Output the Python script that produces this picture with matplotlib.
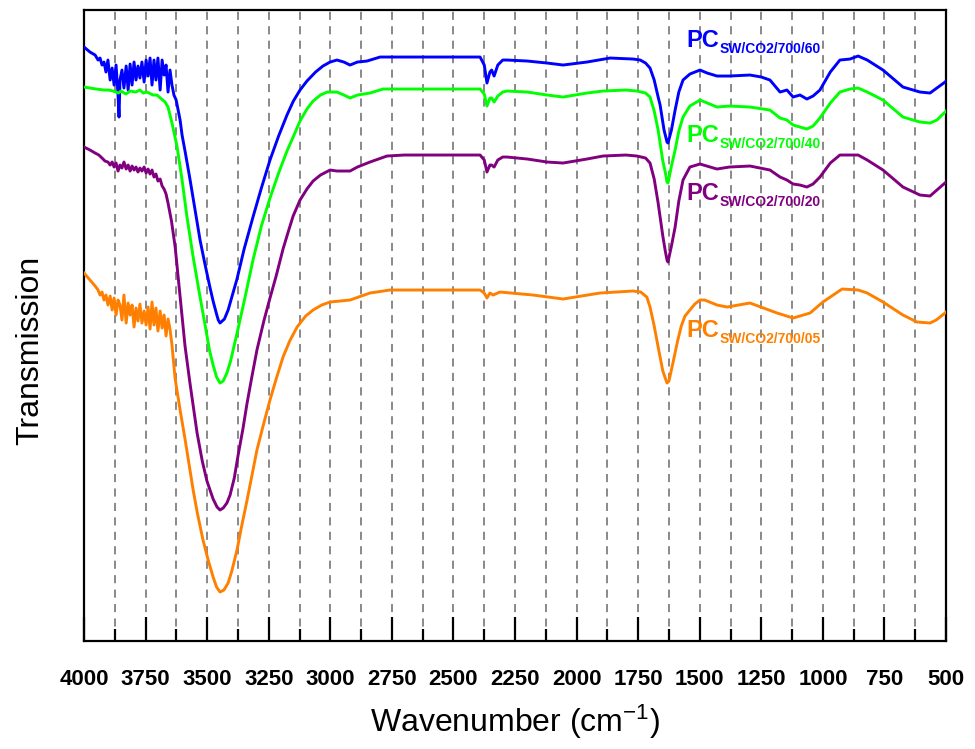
import matplotlib
matplotlib.use("Agg")
import matplotlib.pyplot as plt
from matplotlib.ticker import MultipleLocator

plt.rcParams['font.family'] = ['Liberation Sans', 'DejaVu Sans']
plt.rcParams['mathtext.fontset'] = 'custom'
plt.rcParams['mathtext.rm'] = 'Liberation Sans'
plt.rcParams['mathtext.bf'] = 'Liberation Sans:bold'
plt.rcParams['mathtext.it'] = 'Liberation Sans:italic'

# ---- data (wavenumber cm-1, transmission a.u.) ----
wn_60 = [4000, 3976, 3955, 3943, 3935, 3927, 3919, 3911, 3903, 3894, 3886, 3878, 3870, 3862, 3858, 3854,
         3846, 3838, 3829, 3821, 3813, 3805, 3797, 3789, 3781, 3773, 3765, 3756, 3748, 3740, 3732, 3724,
         3716, 3708, 3700, 3691, 3683, 3675, 3667, 3659, 3651, 3643, 3635, 3626, 3618, 3610, 3602,
         3590, 3570, 3550, 3529, 3510, 3490, 3476, 3462, 3455, 3448, 3430, 3415, 3400, 3379, 3350, 3314,
         3280, 3245, 3210, 3176, 3150, 3123, 3095, 3060, 3030, 3001, 2973, 2945, 2920, 2890, 2851, 2798,
         2700, 2500, 2392, 2375, 2364, 2352, 2345, 2335, 2320, 2300, 2283, 2200, 2120, 2055, 1958, 1864,
         1770, 1742, 1720, 1702, 1685, 1669, 1661, 1645, 1633, 1629, 1615, 1600, 1585, 1568, 1540, 1499,
         1470, 1430, 1380, 1296, 1250, 1215, 1174, 1146, 1121, 1093, 1065, 1040, 1012, 970, 931, 890, 857,
         820, 756, 675, 606, 565, 537, 504, 500]
t_60 = [594, 589, 586, 581, 583, 576, 579, 569, 581, 561, 573, 556, 576, 546, 524, 561,
        571, 553, 575, 551, 577, 556, 579, 561, 575, 563, 579, 559, 581, 565, 583, 556,
        581, 561, 583, 551, 581, 566, 576, 549, 571, 556, 546, 541, 531, 521, 506,
        490, 462, 432, 401, 378, 355, 340, 327, 321, 318, 322, 331, 344, 362, 392, 424,
        453, 481, 505, 526, 540, 551, 560, 569, 575, 579, 581, 579, 576, 579, 580, 584,
        584, 584, 584, 576, 558, 569, 571, 565, 576, 581, 581, 580, 578, 576, 579, 583,
        582, 581, 578, 573, 561, 544, 536, 511, 499, 498, 511, 531, 549, 561, 567, 571,
        568, 565, 565, 566, 564, 561, 549, 551, 544, 546, 542, 545, 551, 569, 581, 582, 585,
        581, 571, 554, 549, 548, 553, 559, 560]

wn_40 = [4000, 3976, 3950, 3920, 3900, 3882, 3860, 3850, 3830, 3813, 3790, 3773, 3760, 3744, 3720, 3704,
         3690, 3671, 3659, 3643, 3622, 3602, 3582, 3557, 3529, 3510, 3490, 3476, 3462, 3448, 3435, 3420,
         3405, 3390, 3375, 3346, 3314, 3280, 3245, 3210, 3176, 3151, 3123, 3095, 3070, 3040, 3013, 2973,
         2945, 2920, 2890, 2839, 2786, 2700, 2500, 2392, 2375, 2364, 2352, 2345, 2335, 2320, 2300, 2283,
         2200, 2120, 2055, 1958, 1893, 1800, 1755, 1720, 1702, 1685, 1669, 1650, 1640, 1633, 1629, 1615,
         1600, 1585, 1568, 1540, 1499, 1430, 1380, 1296, 1215, 1174, 1146, 1121, 1093, 1065, 1040, 1012,
         970, 931, 890, 857, 820, 756, 675, 606, 565, 537, 504, 500]
t_40 = [554, 553, 552, 551, 551, 550, 548, 550, 547, 550, 549, 551, 548, 549, 546, 546,
        543, 539, 534, 518, 494, 461, 424, 384, 344, 318, 290, 276, 264, 258, 260, 268,
        280, 296, 312, 344, 381, 415, 443, 468, 490, 504, 520, 532, 540, 546, 549, 549,
        546, 543, 546, 548, 552, 552, 552, 552, 547, 535, 543, 543, 539, 545, 549, 550,
        549, 546, 544, 548, 550, 551, 550, 548, 544, 530, 511, 480, 469, 459, 458, 475,
        491, 510, 524, 535, 541, 534, 535, 534, 531, 523, 521, 516, 514, 512, 515, 523,
        538, 549, 552, 553, 549, 541, 524, 519, 518, 521, 529, 530]

wn_20 = [4000, 3976, 3955, 3940, 3927, 3915, 3903, 3894, 3886, 3878, 3870, 3862, 3854, 3846, 3838, 3829,
         3821, 3813, 3805, 3797, 3789, 3781, 3773, 3765, 3756, 3748, 3740, 3732, 3724, 3716, 3708, 3700,
         3691, 3683, 3675, 3667, 3659, 3645, 3630, 3610, 3590, 3570, 3541, 3520, 3501, 3476, 3460, 3448,
         3435, 3420, 3407, 3390, 3375, 3355, 3338, 3318, 3298, 3270, 3245, 3220, 3192, 3170, 3151, 3123,
         3095, 3070, 3040, 3001, 2973, 2945, 2920, 2890, 2839, 2770, 2700, 2500, 2392, 2375, 2364, 2352,
         2345, 2335, 2320, 2300, 2283, 2200, 2120, 2055, 1958, 1893, 1800, 1755, 1720, 1702, 1685, 1669,
         1650, 1640, 1633, 1629, 1615, 1600, 1585, 1568, 1540, 1499, 1430, 1380, 1296, 1215, 1174, 1146,
         1121, 1093, 1065, 1040, 1012, 970, 931, 890, 857, 820, 756, 675, 606, 565, 537, 504, 500]
t_20 = [494, 491, 488, 486, 483, 480, 479, 476, 479, 474, 478, 470, 476, 473, 479, 472,
        476, 470, 475, 471, 474, 469, 473, 470, 474, 468, 472, 467, 471, 464, 467, 460,
        462, 455, 452, 447, 438, 420, 394, 344, 295, 258, 208, 180, 160, 142, 134, 131,
        133, 138, 146, 163, 185, 212, 238, 265, 291, 320, 343, 365, 392, 410, 425, 441,
        452, 460, 466, 471, 470, 470, 470, 474, 479, 485, 486, 486, 486, 481, 469, 476,
        476, 474, 481, 484, 484, 482, 479, 478, 482, 485, 486, 485, 483, 478, 462, 438,
        405, 390, 381, 379, 395, 414, 440, 461, 474, 477, 472, 474, 475, 471, 464, 461,
        457, 456, 454, 457, 464, 478, 486, 486, 486, 481, 471, 454, 446, 445, 451, 458, 459]

wn_05 = [4000, 3976, 3955, 3943, 3935, 3927, 3919, 3911, 3903, 3894, 3886, 3878, 3870, 3862, 3854, 3846,
         3838, 3829, 3821, 3813, 3805, 3797, 3789, 3781, 3773, 3765, 3756, 3748, 3740, 3732, 3724, 3716,
         3708, 3700, 3691, 3683, 3675, 3667, 3659, 3651, 3643, 3630, 3610, 3590, 3557, 3540, 3517, 3495,
         3476, 3462, 3448, 3432, 3415, 3400, 3379, 3360, 3338, 3318, 3298, 3270, 3245, 3220, 3192, 3165,
         3135, 3100, 3070, 3035, 3001, 2920, 2839, 2758, 2600, 2392, 2375, 2364, 2352, 2339, 2311, 2177,
         2055, 1905, 1771, 1740, 1715, 1702, 1685, 1669, 1650, 1633, 1625, 1609, 1590, 1575, 1560, 1540,
         1520, 1499, 1480, 1460, 1430, 1389, 1296, 1186, 1121, 1052, 1000, 922, 857, 820, 756, 675, 618,
         565, 540, 504, 500]
t_05 = [368, 361, 355, 351, 346, 349, 341, 346, 336, 345, 331, 343, 326, 341, 336, 321,
        346, 318, 338, 326, 336, 314, 333, 320, 337, 318, 330, 316, 334, 312, 339, 316,
        333, 310, 330, 313, 326, 305, 322, 312, 296, 262, 231, 202, 151, 128, 101, 80,
        64, 54, 49, 51, 58, 70, 91, 115, 141, 166, 191, 218, 241, 262, 284, 300,
        314, 325, 331, 336, 339, 341, 348, 351, 351, 351, 348, 343, 348, 346, 349, 346,
        342, 348, 350, 349, 344, 334, 315, 294, 270, 258, 260, 278, 300, 315, 325, 331,
        337, 341, 341, 339, 336, 334, 338, 328, 323, 328, 339, 352, 351, 348, 339, 326, 319,
        318, 321, 328, 329]

series = [
    (wn_60, t_60, '#0000FF', 'SW/CO2/700/60', 594),
    (wn_40, t_40, '#00FF00', 'SW/CO2/700/40', 499),
    (wn_20, t_20, '#800080', 'SW/CO2/700/20', 441),
    (wn_05, t_05, '#FF8000', 'SW/CO2/700/05', 304),
]
label_x = 1556

fig = plt.figure(figsize=(9.75, 7.49), dpi=100)
ax = fig.add_axes([0.0862, 0.1442, 0.8841, 0.8424])

for wn, t, c, name, ly in series:
    ax.plot(wn, t, color=c, lw=2.1, zorder=3)
    pc = ax.text(label_x, ly, 'PC', color=c, fontsize=17, fontweight='bold',
                 ha='left', va='baseline', zorder=4)
    ax.annotate(name, xy=(1, 0), xycoords=pc, xytext=(0.5, -0.9), textcoords='offset points',
                color=c, fontsize=10, fontweight='bold', ha='left', va='baseline', zorder=4)

ax.set_xlim(4000, 500)
ax.set_ylim(0, 631)
ax.xaxis.set_major_locator(MultipleLocator(250))
ax.xaxis.set_minor_locator(MultipleLocator(125))
ax.set_yticks([])
ax.tick_params(axis='x', which='major', direction='in', length=17, width=1.6, pad=20,
               labelsize=16, color='black')
ax.tick_params(axis='x', which='minor', direction='in', length=8.5, width=1.6, color='black')
for lab in ax.get_xticklabels():
    lab.set_fontweight('bold')
ax.grid(True, axis='x', which='both', color='#808080', linestyle=(0, (4.5, 3.5)), lw=1.3)
for s in ax.spines.values():
    s.set_linewidth(1.6)

ax.set_xlabel(r'Wavenumber (cm$^{\mathrm{-1}}$)', fontsize=23, labelpad=9)
ax.set_ylabel('Transmission', fontsize=23)
ax.yaxis.set_label_coords(-0.045, 0.461)

fig.savefig('out.png', dpi=100)
